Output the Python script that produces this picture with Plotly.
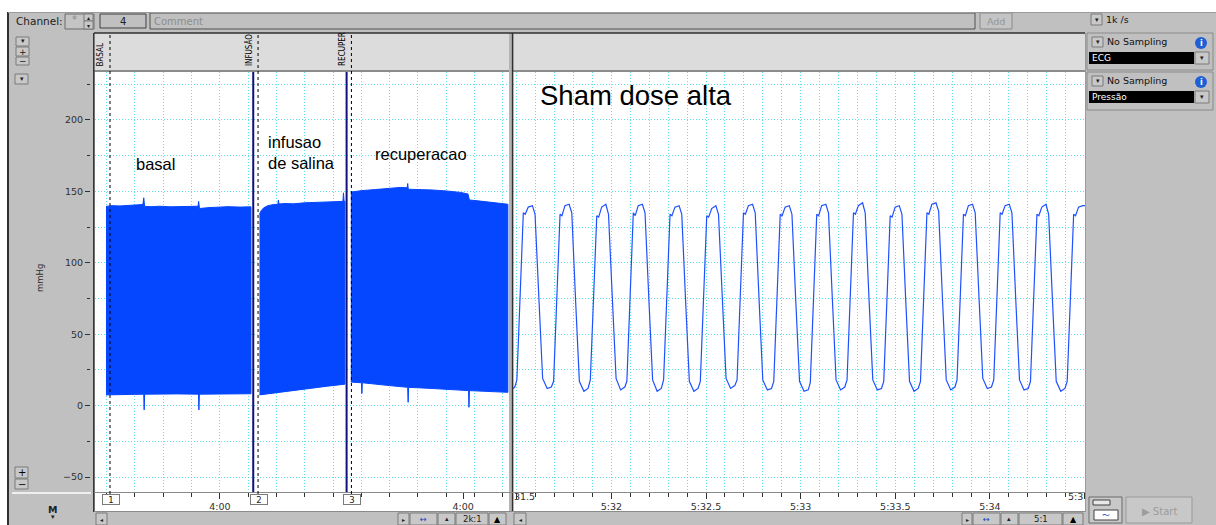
import plotly.graph_objects as go

W, H = 1216, 525

# ---------------- DATA ----------------
# Left (compressed) view: x = seconds from an arbitrary origin, y = mmHg (envelope of the pressure trace)
basal_top_t = [-0.25, 1.9, 4.7, 7.5, 10.0, 12.8, 13.1, 13.4, 16.0, 18.8, 22.4, 25.9, 29.4, 32.3, 32.5, 32.8, 35.8, 39.3, 42.9, 47.1, 51.0]
basal_top = [139.5, 140.0, 139.8, 140.3, 140.5, 140.8, 145.5, 139.5, 139.3, 139.6, 139.2, 139.5, 139.4, 139.6, 143.0, 138.0, 138.6, 138.9, 139.3, 139.0, 139.2]
basal_bot_t = [-0.25, 13.1, 13.25, 13.4, 25.0, 32.45, 32.6, 32.75, 51.0]
basal_bot = [7.5, 8.0, -3.0, 8.0, 8.2, 8.0, -3.0, 8.0, 8.3]

infus_top_t = [54.0, 54.6, 55.5, 57.0, 59.0, 60.5, 60.7, 60.9, 63.0, 66.0, 70.0, 74.0, 78.0, 82.0, 83.5, 83.7, 83.9, 84.2]
infus_top = [134.0, 136.5, 138.5, 140.0, 140.8, 141.0, 144.0, 141.2, 141.5, 141.3, 142.0, 142.3, 142.6, 142.5, 143.0, 149.0, 143.0, 143.2]
infus_bot_t = [54.0, 60.0, 66.0, 72.0, 78.0, 84.2]
infus_bot = [7.5, 9.0, 10.8, 12.2, 13.6, 15.0]

recup_top_t = [86.3, 90.0, 95.0, 100.0, 104.0, 106.2, 106.4, 106.6, 110.0, 115.0, 120.0, 125.0, 127.7, 128.2, 132.0, 136.0, 139.5, 141.8]
recup_top = [149.5, 150.5, 151.3, 152.2, 152.8, 152.5, 155.5, 151.5, 151.5, 151.0, 150.3, 149.3, 148.2, 144.0, 143.2, 142.4, 141.7, 141.0]
recup_bot_t = [86.3, 90.05, 90.2, 90.35, 100.0, 106.4, 106.55, 106.7, 115.0, 127.9, 128.05, 128.2, 135.0, 141.8]
recup_bot = [16.5, 16.0, 8.5, 16.0, 14.0, 12.8, 2.3, 12.8, 12.0, 10.5, -1.2, 10.5, 9.8, 9.3]

# Event markers (left view)
event_t = [1.17, 53.5, 86.5]
event_names = ["BASAL", "INFUSÃO", "RECUPER"]
event_nums = ["1", "2", "3"]
block_breaks = [51.8, 84.8]
left_tick_t = [40, 126]
left_tick_labels = ["4:00", "4:00"]

# Right (zoomed) view: x = milliseconds after 5:31, y = mmHg
wave_t = [480, 490,
          501, 519, 535, 545, 561, 583, 597, 617, 637, 661, 683,
          695, 713, 729, 739, 755, 777, 791, 811, 831, 855, 877,
          889, 907, 923, 933, 949, 971, 985, 1005, 1025, 1049, 1071,
          1082, 1100, 1116, 1126, 1142, 1164, 1178, 1198, 1218, 1242, 1264,
          1276, 1294, 1310, 1320, 1336, 1358, 1372, 1392, 1412, 1436, 1458,
          1470, 1488, 1504, 1514, 1530, 1552, 1566, 1586, 1606, 1630, 1652,
          1664, 1682, 1698, 1708, 1724, 1746, 1760, 1780, 1800, 1824, 1846,
          1858, 1876, 1892, 1902, 1918, 1940, 1954, 1974, 1994, 2018, 2040,
          2051, 2069, 2085, 2095, 2111, 2133, 2147, 2167, 2187, 2211, 2233,
          2245, 2263, 2279, 2289, 2305, 2327, 2341, 2361, 2381, 2405, 2427,
          2439, 2457, 2473, 2483, 2499, 2521, 2535, 2555, 2575, 2599, 2621,
          2633, 2651, 2667, 2677, 2693, 2715, 2729, 2749, 2769, 2793, 2815,
          2826, 2844, 2860, 2870, 2886, 2908, 2922, 2942, 2962, 2986, 3008,
          3020, 3038, 3054, 3064, 3080, 3102, 3116, 3136, 3156, 3180, 3202,
          3214, 3232, 3248, 3258, 3274, 3296, 3310, 3330, 3350, 3374, 3396,
          3408, 3426, 3442, 3452, 3468, 3490, 3502]
wave_v = [12, 13,
          18, 82, 135, 134, 139, 140, 134, 76, 19, 12, 13,
          17, 80, 134, 133, 140, 141, 135, 74, 17, 10, 12,
          18, 79, 133, 132, 139, 141, 134, 76, 19, 11, 13,
          17, 81, 135, 133, 140, 141, 135, 75, 18, 10, 12,
          18, 80, 134, 133, 139, 140, 134, 74, 17, 10, 12,
          17, 78, 133, 132, 138, 140, 134, 76, 19, 12, 14,
          18, 81, 135, 134, 140, 141, 135, 75, 18, 11, 12,
          17, 80, 134, 133, 139, 140, 134, 74, 17, 10, 11,
          16, 79, 134, 133, 140, 141, 135, 76, 18, 11, 13,
          18, 81, 135, 134, 140, 142, 135, 75, 18, 11, 12,
          17, 80, 133, 132, 139, 140, 134, 74, 17, 10, 12,
          17, 81, 135, 134, 141, 142, 136, 75, 18, 11, 13,
          18, 80, 134, 133, 140, 141, 135, 76, 19, 12, 13,
          18, 81, 135, 134, 140, 141, 135, 75, 18, 11, 12,
          17, 80, 134, 133, 139, 141, 134, 74, 17, 10, 12,
          17, 80, 134, 133, 139, 140, 140]
right_tick_ms = [500, 1000, 1500, 2000, 2500, 3000, 3500]
right_tick_labels = ["", "5:32", "5:32.5", "5:33", "5:33.5", "5:34", ""]
y_tick_vals = [-50, 0, 50, 100, 150, 200]

# ---------------- STYLE ----------------
BLUE = "#0546ff"
WAVE = "#1f50ff"
GRID = "#5fe4e4"
GDASH = "1px,2px"
UI = "DejaVu Sans"
ARIAL = "Liberation Sans"
YR = [-60.5, 233.6]

def X(px):
    return px / W

def Y(py):
    return 1 - py / H

shapes, annos = [], []

def box(x0, y0, x1, y1, fill=None, line=None, lw=1, layer="below"):
    shapes.append(dict(type="rect", xref="paper", yref="paper", x0=X(x0), x1=X(x1), y0=Y(y1), y1=Y(y0),
                       fillcolor=fill or "rgba(0,0,0,0)",
                       line=dict(color=line or "rgba(0,0,0,0)", width=lw if line else 0), layer=layer))

def hline(x0, x1, y, color, w=1, layer="above"):
    shapes.append(dict(type="line", xref="paper", yref="paper", x0=X(x0), x1=X(x1), y0=Y(y), y1=Y(y),
                       line=dict(color=color, width=w), layer=layer))

def vline(x, y0, y1, color, w=1, layer="above"):
    shapes.append(dict(type="line", xref="paper", yref="paper", x0=X(x), x1=X(x), y0=Y(y0), y1=Y(y1),
                       line=dict(color=color, width=w), layer=layer))

def text(px, py, s, size=10, color="#111111", xanchor="left", family=UI, **kw):
    annos.append(dict(xref="paper", yref="paper", x=X(px), y=Y(py), text=s, showarrow=False,
                      xanchor=xanchor, yanchor="middle", font=dict(family=family, size=size, color=color), **kw))

def btn(x0, y0, x1, y1, s="", size=7, color="#202020"):
    box(x0, y0, x1, y1, "#c8c8c8", "#7a7a7a", 1)
    if s:
        text((x0 + x1) / 2, (y0 + y1) / 2, s, size, color, "center", borderpad=0)

# ---------------- TRACES ----------------
fig = go.Figure()
for tt, top, bt, bot in [(basal_top_t, basal_top, basal_bot_t, basal_bot),
                         (infus_top_t, infus_top, infus_bot_t, infus_bot),
                         (recup_top_t, recup_top, recup_bot_t, recup_bot)]:
    fig.add_trace(go.Scatter(x=tt + bt[::-1], y=top + bot[::-1], fill="toself", fillcolor=BLUE,
                             mode="lines", line=dict(color=BLUE, width=1), xaxis="x", yaxis="y",
                             hoverinfo="skip", showlegend=False))
fig.add_trace(go.Scatter(x=wave_t, y=wave_v, mode="lines", line=dict(color=WAVE, width=1.2),
                         xaxis="x2", yaxis="y2", hoverinfo="skip", showlegend=False))
fig.add_trace(go.Scatter(x=[None], y=[None], xaxis="x", yaxis="y3", showlegend=False))

# ---------------- CHROME ----------------
box(0, 0, W, 12, "white")
box(0, 12, 7, H, "white")
vline(8, 12, H, "#303030", 2)
hline(8, W, 12.5, "#9a9a9a", 1)

# toolbar
text(14, 21, "Channel:", 10.5, "#202020")
box(65, 14, 94, 29, "#c4c4c4", "#6a6a6a")
text(70, 19, "*", 10, "#8a8a8a")
btn(84, 14, 93, 21, "▴", 6)
btn(84, 21, 93, 29, "▾", 6)
box(100, 14, 146, 28, "#c0c0c0", "#404040")
text(123, 21, "4", 10, "#202020", "center")
box(150, 13, 975, 29, "#c0c0c0", "#505050")
text(152, 21, "Comment", 10, "#8c8c8c")
box(980, 13, 1012, 29, "#c4c4c4", "#8a8a8a")
text(996, 21, "Add", 9.5, "#959595", "center")

# event bar
box(94, 33, 509, 70, "#dcdcdc")
box(513, 33, 1085, 70, "#dcdcdc")
hline(94, 1085, 33, "#303030", 1.5)
hline(94, 509, 71, "#8c8c8c", 2)
hline(513, 1085, 71, "#8c8c8c", 2)
vline(93.8, 33, 512, "#303030", 1.5)
box(509, 33, 512, 512, "#b4b4b4")
vline(512.6, 33, 512, "#303030", 1.5)
vline(1085.5, 33, 512, "#9a9a9a", 1)

# left gray column
btn(16, 37, 29, 46, "▾")
btn(16, 47, 29, 56, "+", 9)
btn(16, 57, 29, 65, "−", 9)
btn(15, 74, 28, 84, "▾")
btn(15, 467, 28, 478, "+", 10, "#000")
btn(15, 479, 28, 489, "−", 10, "#000")
hline(12, 91, 493, "white", 1.5)
text(53, 509, "<b>M</b>", 9.5, "#202020", "center")
text(53, 517, "▾", 7, "#202020", "center")
annos.append(dict(xref="paper", yref="paper", x=X(33), y=Y(278), text="mmHg", showarrow=False,
                  textangle=-90, font=dict(family=UI, size=8.5, color="#303030")))

# time strip + scroll bar
box(95, 493, 509, 511, "white")
box(513, 493, 1085, 511, "white")
hline(94, 1085, 492.5, "#8a8a8a", 1)
hline(94, 1085, 511.5, "#8a8a8a", 1)
btn(96, 513, 107, 525, "◂", 6)
btn(398, 513, 409, 525, "▸", 6)
btn(410, 513, 437, 525, "↔", 8, "#2040c0")
btn(438, 513, 455, 525, "▴", 7)
btn(456, 513, 488, 525, "2k:1", 8.5)
btn(489, 513, 506, 525, "▲", 8, "#000")
btn(514, 513, 526, 525, "◂", 6)
btn(962, 513, 972, 525, "▸", 6)
btn(973, 513, 1000, 525, "↔", 8, "#2040c0")
btn(1001, 513, 1018, 525, "▴", 7)
btn(1019, 513, 1062, 525, "5:1", 8.5)
btn(1063, 513, 1083, 525, "▲", 8, "#000")

# right sidebar
btn(1091, 14, 1102, 25, "▾")
text(1104, 20, "1k /s", 9.5, "#111111")
box(1087, 33, 1213, 70, None, "#8a8a8a")
box(1087, 72, 1213, 110, None, "#8a8a8a")
for gy, lab in [(0, "ECG"), (39, "Pressão")]:
    btn(1092, 37 + gy, 1103, 47 + gy, "▾")
    text(1105, 42 + gy, "No Sampling", 9.5, "#111111")
    shapes.append(dict(type="circle", xref="paper", yref="paper", x0=X(1195), x1=X(1207),
                       y0=Y(49 + gy), y1=Y(37 + gy), fillcolor="#1f5fd6", line=dict(width=0), layer="above"))
    text(1201, 43 + gy, "<b>i</b>", 8, "white", "center", borderpad=0)
    box(1089, 52 + gy, 1194, 64 + gy, "black")
    text(1090, 58 + gy, lab, 9, "white")
    btn(1195, 52 + gy, 1209, 64 + gy, "▾")
box(1089, 497, 1122, 523, "#c8c8c8", "#6a6a6a")
box(1093, 500, 1110, 505, "#e8e8e8", "#404040")
box(1094, 510, 1118, 520, "white", "#404040")
text(1106, 515, "〜", 8, "#2040c0", "center", borderpad=0)
box(1126, 497, 1192, 523, "#c8c8c8", "#9a9a9a")
text(1159, 511, "▶ Start", 10, "#9c9c9c", "center")

# event markers (data-driven)
for t, name, num in zip(event_t, event_names, event_nums):
    shapes.append(dict(type="line", xref="x", yref="paper", x0=t, x1=t, y0=Y(500), y1=Y(34),
                       line=dict(color="black", width=1, dash="dot"), layer="above"))
    annos.append(dict(xref="x", yref="paper", x=t, y=Y(68), text=name, showarrow=False, textangle=-90,
                      xanchor="right", yanchor="bottom", xshift=-2,
                      font=dict(family="DejaVu Sans Condensed, DejaVu Sans", size=8, color="black")))
    annos.append(dict(xref="x", yref="paper", x=t, y=Y(505), text=num, showarrow=False, xshift=1,
                      bordercolor="#7a7a7a", borderwidth=1, bgcolor="white", width=16, height=9, borderpad=0,
                      font=dict(family=UI, size=8.5, color="#202020")))
for b in block_breaks:
    shapes.append(dict(type="line", xref="x", yref="paper", x0=b, x1=b, y0=Y(492), y1=Y(72),
                       line=dict(color="#10107a", width=2), layer="above"))

# plot texts
annos.append(dict(xref="x", yref="y", x=17.1, y=169.2, text="basal", showarrow=False,
                  font=dict(family=ARIAL, size=16.5, color="black")))
annos.append(dict(xref="x", yref="y", x=56.3, y=177.5, text="infusao<br>de salina", showarrow=False,
                  xanchor="left", align="left", font=dict(family=ARIAL, size=16.5, color="black")))
annos.append(dict(xref="x", yref="y", x=111.1, y=176.1, text="recuperacao", showarrow=False,
                  font=dict(family=ARIAL, size=16.5, color="black")))
annos.append(dict(xref="x2", yref="y", x=615, y=216.8, text="Sham dose alta", showarrow=False,
                  xanchor="left", font=dict(family=ARIAL, size=27.5, color="black")))
# clipped tick labels at the panel edges
annos.append(dict(xref="x2", yref="paper", x=500, y=Y(504), text="31.5", showarrow=False,
                  xanchor="left", xshift=-5, font=dict(family=UI, size=9.5, color="#303030")))
annos.append(dict(xref="x2", yref="paper", x=3502, y=Y(504), text="5:3", showarrow=False,
                  xanchor="right", xshift=0, font=dict(family=UI, size=9.5, color="#303030")))

tickfont = dict(family=UI, size=9.5, color="#303030")
common_y = dict(range=YR, domain=[Y(492), Y(72)], showgrid=True, gridcolor=GRID, griddash=GDASH,
                gridwidth=1, tick0=0, dtick=25, ticks="", showticklabels=False, zeroline=False,
                showline=False, fixedrange=True)

fig.update_layout(
    width=W, height=H, margin=dict(l=0, r=0, t=0, b=0), autosize=False,
    paper_bgcolor="#c0c0c0", plot_bgcolor="white", showlegend=False,
    xaxis=dict(domain=[X(95), X(509)], range=[-4.13, 142.2], anchor="y", showgrid=False,
               zeroline=False, showline=False, ticks="outside", ticklen=6, tickcolor="#303030",
               tickvals=left_tick_t, ticktext=left_tick_labels, tickfont=tickfont,
               minor=dict(tick0=0, dtick=10, ticks="outside", ticklen=4, tickcolor="#303030",
                          showgrid=True, gridcolor=GRID, griddash=GDASH, gridwidth=1)),
    xaxis2=dict(domain=[X(513), X(1085)], range=[480.5, 3502], anchor="y2", showgrid=False,
                zeroline=False, showline=False, ticks="outside", ticklen=6, tickcolor="#303030",
                tickvals=right_tick_ms, ticktext=right_tick_labels, tickfont=tickfont,
                minor=dict(tick0=0, dtick=100, ticks="outside", ticklen=4, tickcolor="#303030",
                           showgrid=True, gridcolor=GRID, griddash=GDASH, gridwidth=1)),
    yaxis=dict(anchor="x", **common_y),
    yaxis2=dict(anchor="x2", **common_y),
    yaxis3=dict(range=YR, domain=[Y(492), Y(72)], overlaying="y", anchor="free", position=X(90),
                side="left", showgrid=False, zeroline=False, showline=False, ticks="outside",
                ticklen=5, tickcolor="#303030", tickvals=y_tick_vals, tickfont=tickfont,
                minor=dict(tick0=0, dtick=25, ticks="outside", ticklen=3, tickcolor="#303030")),
    shapes=shapes, annotations=annos,
)

fig.write_html("out.html")
